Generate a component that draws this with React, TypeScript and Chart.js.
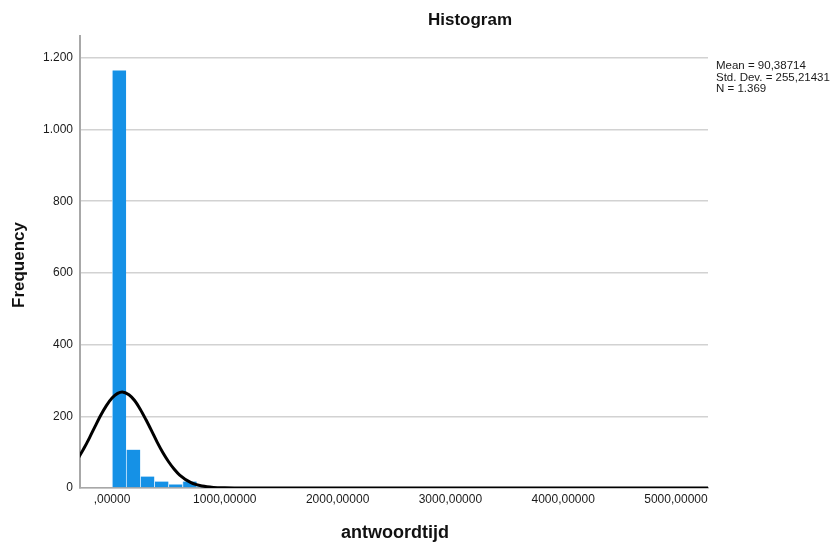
import React, { useEffect, useRef } from "react";
import { Chart, registerables } from "chart.js";

Chart.register(...registerables);

// Histogram bins (bin width 125, centers)
const binCenters = [62.5, 187.5, 312.5, 437.5, 562.5, 687.5, 812.5, 937.5, 1062.5, 1187.5, 1312.5, 1437.5, 1562.5, 2062.5, 2812.5, 3562.5, 4937.5];
const binCounts = [1165, 107, 32, 18, 10, 18, 5, 3, 2, 2, 1, 1, 1, 1, 1, 1, 1];

// Normal curve readings (x, frequency)
const curveX = [-300, -250, -200, -150, -100, -50, 0, 50, 90, 150, 200, 250, 300, 350, 400, 450, 500, 550, 600, 700, 800, 900, 1000, 1200, 2000, 5300];
const curveY = [83, 110, 140, 172, 203, 230, 251, 264, 268, 260, 244, 220, 191, 160, 128, 99, 74, 53, 36, 15, 5.6, 1.7, 0.5, 0, 0, 0];

const xTickValues = [0, 1000, 2000, 3000, 4000, 5000];
const xTickLabels = [",00000", "1000,00000", "2000,00000", "3000,00000", "4000,00000", "5000,00000"];
const yTickValues = [0, 200, 400, 600, 800, 1000, 1200];
const yTickLabels = ["0", "200", "400", "600", "800", "1.000", "1.200"];

const titleText = "Histogram";
const xTitle = "antwoordtijd";
const yTitle = "Frequency";
const statsLines = ["Mean = 90,38714", "Std. Dev. = 255,21431", "N = 1.369"];

const FONT = "'Liberation Sans', Arial, Helvetica, sans-serif";

const textPlugin = {
  id: "texts",
  afterDraw(chart: any) {
    const ctx = chart.ctx;
    ctx.save();
    ctx.fillStyle = "#111";
    ctx.textAlign = "center";
    ctx.textBaseline = "middle";
    ctx.font = `bold 17px ${FONT}`;
    ctx.fillText(titleText, 470, 20);
    ctx.font = `bold 18px ${FONT}`;
    ctx.fillText(xTitle, 395, 533);
    ctx.save();
    ctx.translate(19, 265);
    ctx.rotate(-Math.PI / 2);
    ctx.font = `bold 17px ${FONT}`;
    ctx.fillText(yTitle, 0, 0);
    ctx.restore();
    ctx.textAlign = "left";
    ctx.font = `11.5px ${FONT}`;
    ctx.fillStyle = "#1a1a1a";
    statsLines.forEach((s, i) => ctx.fillText(s, 716, 66 + i * 11.5));
    ctx.restore();
  },
};

export default function App() {
  const ref = useRef<HTMLCanvasElement>(null);
  useEffect(() => {
    if (!ref.current) return;
    const chart = new Chart(ref.current, {
      type: "bar",
      data: {
        datasets: [
          {
            type: "line",
            data: curveX.map((x, i) => ({ x, y: curveY[i] })),
            borderColor: "#000",
            borderWidth: 3,
            pointRadius: 0,
            cubicInterpolationMode: "monotone",
            fill: false,
            order: 0,
          } as any,
          {
            type: "bar",
            data: binCenters.map((x, i) => ({ x, y: binCounts[i] })),
            backgroundColor: "#1591e6",
            borderColor: "rgba(200,230,255,0.8)",
            borderWidth: { left: 1, right: 0, top: 0, bottom: 0 },
            barPercentage: 1,
            categoryPercentage: 1,
            order: 1,
          } as any,
        ],
      },
      plugins: [textPlugin],
      options: {
        responsive: false,
        animation: false,
        layout: { padding: { left: 0, top: 36, right: 129, bottom: 0 } },
        plugins: { legend: { display: false }, tooltip: { enabled: false }, title: { display: false } },
        scales: {
          x: {
            type: "linear",
            min: -284,
            max: 5284,
            offset: false,
            grid: { display: false, drawTicks: false },
            border: { display: true, color: "#a8a8a8", width: 1.5 },
            afterBuildTicks: (s: any) => {
              s.ticks = xTickValues.map((v) => ({ value: v }));
            },
            afterFit: (s: any) => {
              s.height = 57;
            },
            ticks: {
              autoSkip: false,
              maxRotation: 0,
              padding: 4,
              color: "#1a1a1a",
              font: { family: FONT, size: 12 },
              callback: (v: any) => {
                const i = xTickValues.indexOf(Number(v));
                return i >= 0 ? xTickLabels[i] : "";
              },
            },
          },
          y: {
            type: "linear",
            min: 0,
            max: 1261,
            grid: { color: "#d2d2d2", lineWidth: 1.5, drawTicks: false },
            border: { display: true, color: "#a8a8a8", width: 2 },
            afterBuildTicks: (s: any) => {
              s.ticks = yTickValues.map((v) => ({ value: v }));
            },
            afterFit: (s: any) => {
              s.width = 80;
            },
            ticks: {
              padding: 7,
              color: "#1a1a1a",
              font: { family: FONT, size: 12 },
              callback: (v: any) => {
                const i = yTickValues.indexOf(Number(v));
                return i >= 0 ? yTickLabels[i] : "";
              },
            },
          },
        },
      },
    } as any);
    return () => chart.destroy();
  }, []);
  return (
    <div style={{ position: "absolute", left: 0, top: 0, width: 837, height: 545, background: "#fff" }}>
      <canvas ref={ref} width={837} height={545} style={{ width: 837, height: 545 }} />
    </div>
  );
}
